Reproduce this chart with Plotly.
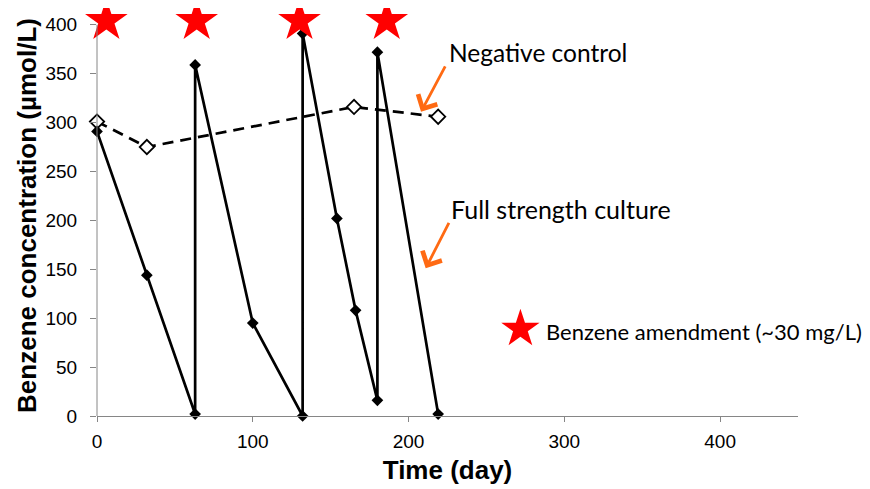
import plotly.graph_objects as go

# Full strength culture
full_days = [0, 32, 63, 63, 100, 132, 132, 154, 166, 180, 180, 219]
full_conc = [291, 144, 2, 359, 95, 0, 391, 202, 108, 16, 372, 2]

# Negative control
neg_days = [0, 32, 165, 219]
neg_conc = [301, 275, 316, 306]

# Benzene amendment events
amend_days = [6, 64, 130, 186]
amend_level = [404, 404, 404, 404]

x_ticks = [0, 100, 200, 300, 400]
y_ticks = [0, 50, 100, 150, 200, 250, 300, 350, 400]

AX = "Liberation Sans, Arial, sans-serif"
TXT = "Lato, Noto Sans, sans-serif"

W, H = 870, 489
OFF = 8  # page body margin
L, R, T, B = 88.7, 80.3, 6.5, 81
pw, ph = W - L - R, H - T - B

fig = go.Figure()

fig.add_trace(go.Scatter(
    x=neg_days, y=neg_conc, mode="lines+markers",
    line=dict(color="black", width=2.7, dash="11px,7px"),
    marker=dict(symbol="diamond", size=11, color="white",
                line=dict(color="black", width=1.8)),
    showlegend=False, cliponaxis=False))

fig.add_trace(go.Scatter(
    x=full_days, y=full_conc, mode="lines+markers",
    line=dict(color="black", width=2.7),
    marker=dict(symbol="diamond", size=9, color="black"),
    showlegend=False, cliponaxis=False))

fig.add_trace(go.Scatter(
    x=amend_days, y=amend_level, mode="markers",
    marker=dict(symbol="star", size=32, color="#FF0000", line=dict(width=0)),
    showlegend=False, cliponaxis=False))

fig.update_xaxes(
    range=[0, 450], tickvals=x_ticks, showgrid=False, zeroline=False,
    showline=True, linecolor="#868686", linewidth=1,
    ticks="outside", ticklen=5, tickcolor="#868686", ticklabelstandoff=3,
    tickfont=dict(family=AX, size=19, color="black"),
    title=dict(text="<b>Time (day)</b>", font=dict(family=AX, size=26, color="black"),
               standoff=10))

fig.update_yaxes(
    range=[0, 410], tickvals=y_ticks, showgrid=False, zeroline=False,
    showline=False,
    ticks="outside", ticklen=6, tickcolor="#868686", ticklabelstandoff=9,
    tickfont=dict(family=AX, size=19, color="black"),
    title=dict(text="<b>Benzene concentration (µmol/L)</b>",
               font=dict(family=AX, size=26, color="black"), standoff=1))

# y axis line only up to the last tick
fig.add_shape(type="line", xref="paper", yref="y", x0=0, x1=0, y0=0, y1=y_ticks[-1],
              line=dict(color="#868686", width=1))

orange = "#FF6A13"
fig.add_annotation(x=208, y=311, ax=25, ay=-47, xref="x", yref="y",
                   showarrow=True, arrowhead=4, arrowsize=1.5, arrowwidth=2.8,
                   arrowcolor=orange, text="")
fig.add_annotation(x=211, y=151, ax=24, ay=-47, xref="x", yref="y",
                   showarrow=True, arrowhead=4, arrowsize=1.5, arrowwidth=2.8,
                   arrowcolor=orange, text="")

# free text placed by window pixel, converted to paper coords below
fig.add_annotation(x=447, y=52, xref="paper", yref="paper", text="Negative control",
                   showarrow=False, xanchor="left", yanchor="middle",
                   font=dict(family=TXT, size=24.5, color="black"))
fig.add_annotation(x=449, y=209, xref="paper", yref="paper", text="Full strength culture",
                   showarrow=False, xanchor="left", yanchor="middle",
                   font=dict(family=TXT, size=25, color="black"))
fig.add_annotation(x=544, y=331, xref="paper", yref="paper",
                   text="Benzene amendment (~30 mg/L)",
                   showarrow=False, xanchor="left", yanchor="middle",
                   font=dict(family=TXT, size=22, color="black"))
fig.add_annotation(x=520, y=328, xref="paper", yref="paper", text="★",
                   showarrow=False, xanchor="center", yanchor="middle",
                   font=dict(family="DejaVu Sans", size=50, color="#FF0000"))

for a in fig.layout.annotations:
    if a.xref == "paper":
        a.x = (a.x - OFF - L) / pw
        a.y = (H - B - (a.y - OFF)) / ph

fig.update_layout(
    width=W, height=H, margin=dict(l=L, r=R, t=T, b=B),
    plot_bgcolor="white", paper_bgcolor="white")

fig.write_html("out.html")
